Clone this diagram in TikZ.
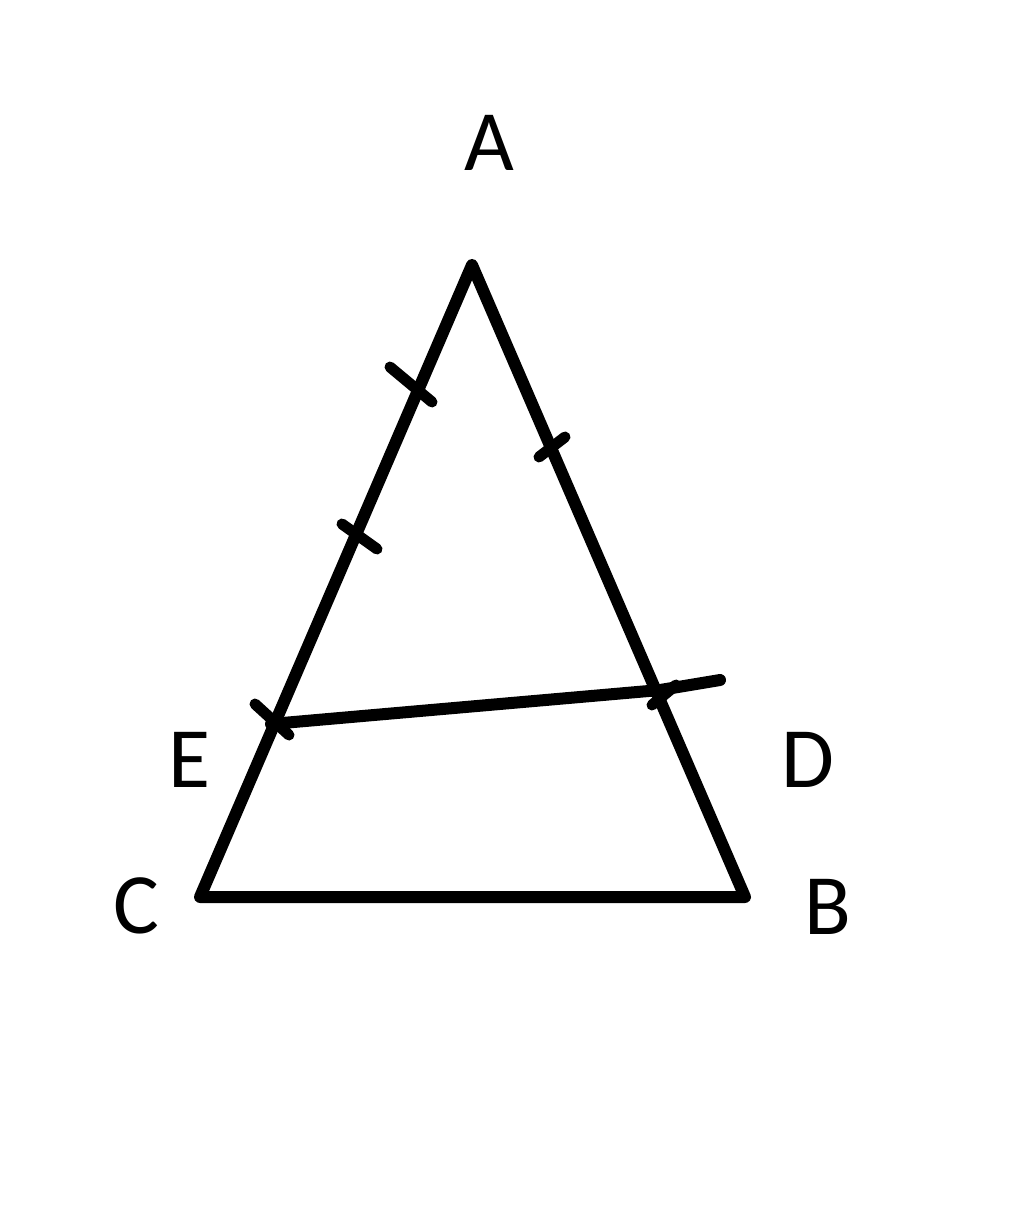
\documentclass[tikz,border=0pt]{standalone}
\usepackage{fontspec}
\setmainfont{Carlito}
\begin{document}
\begin{tikzpicture}[x=1pt,y=-1pt,
  seg/.style={line width=12pt,line cap=round,line join=round},
  tick/.style={line width=11pt,line cap=round},
  lbl/.style={font=\fontsize{86}{100}\selectfont,inner sep=0pt}]
\useasboundingbox (0,0) rectangle (1024,1214);
\coordinate (A) at (472,265);
\coordinate (C) at (200,897);
\coordinate (B) at (745,897);
\coordinate (E) at (271,724);
\coordinate (D) at (660,690);
\coordinate (Dx) at (720,680);
\draw[seg] (A) -- (C) -- (B) -- cycle;
\draw[seg] (E) -- (D);
\draw[seg] (D) -- (Dx);
% ticks
\coordinate (t1a) at (390,367); \coordinate (t1b) at (432,402);
\coordinate (t2a) at (342,524); \coordinate (t2b) at (377,549);
\coordinate (t3a) at (255,704); \coordinate (t3b) at (289,735);
\coordinate (t4a) at (539,457); \coordinate (t4b) at (565,437);
\coordinate (t5a) at (652,705); \coordinate (t5b) at (676,685);
\draw[tick] (t1a) -- (t1b);
\draw[tick] (t2a) -- (t2b);
\draw[tick] (t3a) -- (t3b);
\draw[tick] (t4a) -- (t4b);
\draw[tick] (t5a) -- (t5b);
\node[lbl] (lA) at (489,143) {A};
\node[lbl] (lE) at (189,760) {E};
\node[lbl] (lD) at (808,760) {D};
\node[lbl] (lC) at (136,906) {C};
\node[lbl] (lB) at (828,907) {B};
\end{tikzpicture}
\end{document}
